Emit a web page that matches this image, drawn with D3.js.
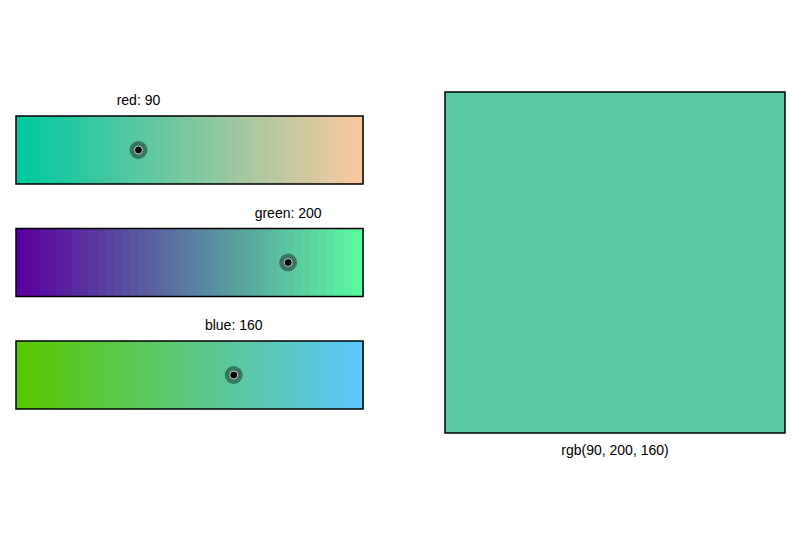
<!DOCTYPE html>
<html><head><meta charset="utf-8">
<script src="https://cdn.jsdelivr.net/npm/d3@7"></script>
<style>body{margin:0;background:#fff}svg{display:block;font-family:"Liberation Sans",Arial,sans-serif}</style>
</head><body>
<svg id="c" width="802" height="534"></svg>
<script>
const channels = ["red", "green", "blue"];
const values = [90, 200, 160];
const bandStep = 6;

const svg = d3.select("#c");
const x = d3.scaleLinear().domain([0, 255]).range([16, 363]);
const y = d3.scaleBand().domain(channels).range([116, 409]).paddingInner(0.3956);
const steps = d3.range(0, 256, bandStep);

channels.forEach((ch, i) => {
  const g = svg.append("g");
  const y0 = y(ch), h = y.bandwidth();
  const colorAt = v => { const c = values.slice(); c[i] = v; return d3.rgb(c[0], c[1], c[2]).toString(); };
  g.selectAll("rect.b").data(steps).join("rect")
    .attr("x", d => x(d)).attr("y", y0)
    .attr("width", d => x(Math.min(255, d + bandStep)) - x(d) + 1)
    .attr("height", h)
    .attr("shape-rendering", "crispEdges")
    .attr("fill", d => colorAt(d));
  g.append("rect").attr("x", x(0)).attr("y", y0).attr("width", x(255) - x(0)).attr("height", h)
    .attr("fill", "none").attr("stroke", "#000").attr("stroke-width", 1.5);
  const hx = x(values[i]), hy = y0 + h / 2;
  g.append("circle").attr("cx", hx).attr("cy", hy).attr("r", 9).attr("fill", "#000").attr("fill-opacity", 0.4);
  g.append("circle").attr("cx", hx).attr("cy", hy).attr("r", 4).attr("fill", "#000").attr("stroke", "#ccc").attr("stroke-width", 1);
  g.append("text").attr("x", hx).attr("y", y0 - 11).attr("text-anchor", "middle")
    .attr("font-size", 14).text(`${ch}: ${values[i]}`);
});

const sq = {x0: 445, x1: 785, y0: 92, y1: 433};
svg.append("rect").attr("x", sq.x0).attr("y", sq.y0).attr("width", sq.x1 - sq.x0).attr("height", sq.y1 - sq.y0)
  .attr("fill", d3.rgb(values[0], values[1], values[2])).attr("stroke", "#000").attr("stroke-width", 1.5);
svg.append("text").attr("x", (sq.x0 + sq.x1) / 2).attr("y", sq.y1 + 22).attr("text-anchor", "middle")
  .attr("font-size", 14).text(`rgb(${values.join(", ")})`);
</script>
</body></html>
